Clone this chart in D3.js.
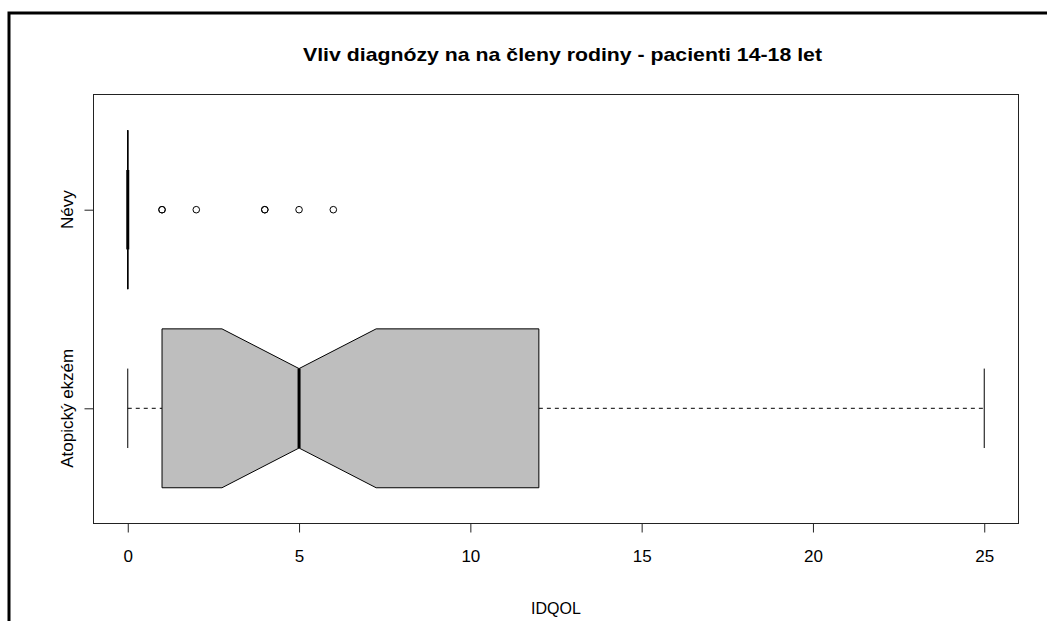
<!DOCTYPE html>
<html>
<head>
<meta charset="utf-8">
<script src="https://d3js.org/d3.v7.min.js"></script>
<style>
  body { margin: 0; background: #fff; }
  text { font-family: "Liberation Sans", Arial, sans-serif; fill: #000; }
</style>
</head>
<body>
<div id="chart"></div>
<script>
// data
var categories = ["Atopický ekzém", "Névy"];
var whiskerLo  = [0, 0];
var q1         = [1, 0];
var medians    = [5, 0];
var q3         = [12, 0];
var whiskerHi  = [25, 0];
var notchLo    = [2.75, 0];
var notchHi    = [7.25, 0];
var outliers   = [[], [1, 1, 2, 4, 4, 5, 6]];
var xTicks     = [0, 5, 10, 15, 20, 25];

var width = 1052, height = 621;
var plot = {left: 93.5, right: 1018.5, top: 94.5, bottom: 523.5};

var svg = d3.select("#chart").append("svg")
  .attr("width", width).attr("height", height);

// outer frame (top + left only visible)
svg.append("path")
  .attr("d", "M9,621 L9,13 L1047,13")
  .attr("fill", "none").attr("stroke", "#000").attr("stroke-width", 3);

var x = d3.scaleLinear().domain([-1, 26]).range([plot.left, plot.right]);
// positions 1..n, extended like R
var y = d3.scaleLinear().domain([0.42, 2.58]).range([plot.bottom, plot.top]);

var boxHalf = 0.4, notchHalf = 0.2, stapleHalf = 0.2;

svg.append("rect")
  .attr("x", plot.left).attr("y", plot.top)
  .attr("width", plot.right - plot.left).attr("height", plot.bottom - plot.top)
  .attr("fill", "none").attr("stroke", "#222").attr("stroke-width", 1);

var g = svg.append("g");

categories.forEach(function(cat, i) {
  var pos = i + 1;
  var cy = y(pos);
  // whiskers
  g.append("line")
    .attr("x1", x(whiskerLo[i])).attr("x2", x(q1[i]))
    .attr("y1", cy).attr("y2", cy)
    .attr("stroke", "#000").attr("stroke-dasharray", "4,4");
  g.append("line")
    .attr("x1", x(q3[i])).attr("x2", x(whiskerHi[i]))
    .attr("y1", cy).attr("y2", cy)
    .attr("stroke", "#000").attr("stroke-dasharray", "4,4");
  // staples
  [whiskerLo[i], whiskerHi[i]].forEach(function(v) {
    g.append("line")
      .attr("x1", x(v)).attr("x2", x(v))
      .attr("y1", y(pos - stapleHalf)).attr("y2", y(pos + stapleHalf))
      .attr("stroke", "#000");
  });
  // notched box
  var pts = [
    [q1[i], pos + boxHalf], [notchLo[i], pos + boxHalf], [medians[i], pos + notchHalf],
    [notchHi[i], pos + boxHalf], [q3[i], pos + boxHalf],
    [q3[i], pos - boxHalf], [notchHi[i], pos - boxHalf], [medians[i], pos - notchHalf],
    [notchLo[i], pos - boxHalf], [q1[i], pos - boxHalf]
  ];
  g.append("path")
    .attr("d", d3.line().x(function(d) { return x(d[0]); }).y(function(d) { return y(d[1]); })(pts) + "Z")
    .attr("fill", "#bebebe").attr("stroke", "#000").attr("stroke-width", 1);
  // median
  g.append("line")
    .attr("x1", x(medians[i])).attr("x2", x(medians[i]))
    .attr("y1", y(pos - notchHalf)).attr("y2", y(pos + notchHalf))
    .attr("stroke", "#000").attr("stroke-width", 3);
  // outliers
  g.selectAll(null).data(outliers[i]).enter().append("circle")
    .attr("cx", function(d) { return x(d); })
    .attr("cy", cy)
    .attr("r", 3.3)
    .attr("fill", "none").attr("stroke", "#000").attr("stroke-width", 1);
});

// x axis
var xAxis = svg.append("g")
  .attr("transform", "translate(0," + plot.bottom + ")")
  .call(d3.axisBottom(x).tickValues(xTicks).tickSize(9).tickPadding(17).tickFormat(d3.format("d")));
xAxis.select(".domain").remove();
xAxis.selectAll(".tick line").attr("stroke", "#222");
xAxis.selectAll("text").attr("font-size", "17px")
  .attr("font-family", "Liberation Sans, Arial, sans-serif").attr("fill", "#000");

// y axis
var yAxis = svg.append("g")
  .attr("transform", "translate(" + plot.left + ",0)")
  .call(d3.axisLeft(y).tickValues([1, 2]).tickSize(9).tickFormat(function(d) { return ""; }));
yAxis.select(".domain").remove();
yAxis.selectAll(".tick line").attr("stroke", "#222");

categories.forEach(function(cat, i) {
  svg.append("text")
    .attr("transform", "translate(73," + y(i + 1) + ") rotate(-90)")
    .attr("text-anchor", "middle")
    .attr("font-size", "17px")
    .text(cat);
});

// title and x label
svg.append("text")
  .attr("x", 562.5).attr("y", 61)
  .attr("text-anchor", "middle")
  .attr("font-size", "19px").attr("font-weight", "bold")
  .attr("textLength", 519).attr("lengthAdjust", "spacingAndGlyphs")
  .text("Vliv diagnózy na na členy rodiny - pacienti 14-18 let");

svg.append("text")
  .attr("x", (plot.left + plot.right) / 2).attr("y", 614)
  .attr("text-anchor", "middle")
  .attr("font-size", "16px")
  .text("IDQOL");
</script>
</body>
</html>
